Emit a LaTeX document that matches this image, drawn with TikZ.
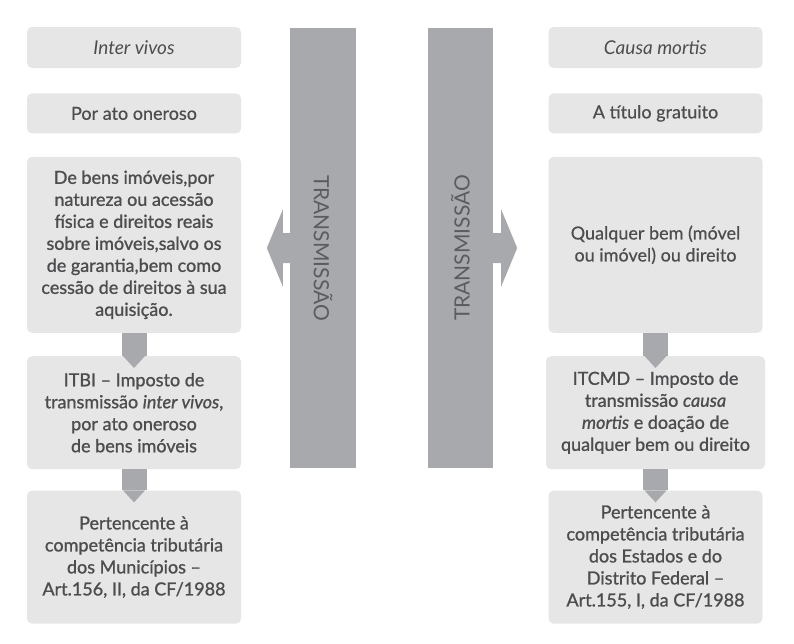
\documentclass[tikz,border=0pt]{standalone}
\usepackage{fontspec}
\setmainfont{Lato}[FakeBold=0.4]
\newfontfamily\heavyfont{Lato}[Ligatures=TeX,FakeBold=1.1]
\newfontfamily\labelfont{Lato}[Ligatures=TeX]
\usepackage{xcolor}
\usepackage{tikz}
\usetikzlibrary{calc, positioning}

\definecolor{boxgray}{HTML}{E6E6E7}
\definecolor{bargray}{HTML}{A7A9AC}
\definecolor{txtgray}{HTML}{4D4D4F}
\definecolor{lblgray}{HTML}{5B5C5E}

\begin{document}
\begin{tikzpicture}[x=1pt,y=1pt,
                    box/.style={rectangle,rounded corners=5pt,fill=boxgray,text=txtgray,
                                minimum width=214pt,inner sep=0pt,align=center,
                                font=\fontsize{18}{22}\selectfont},
                    heavy box/.style={box,font=\heavyfont\fontsize{18}{22}\selectfont},
                    head box/.style={box,font=\labelfont\fontsize{19}{22}\selectfont},
                    bar/.style={rectangle,fill=bargray,inner sep=0pt,minimum width=66pt,minimum height=440pt},
                    bar label/.style={text=lblgray,font=\labelfont\fontsize{21}{24}\selectfont},
                    shaft/.style={draw=bargray,line width=25pt}]

 \useasboundingbox (0,0) rectangle (794,-643);

 % left column
 \node[head box,minimum height=41pt] (inter) at (134,-47.5) {\textit{Inter vivos}};
 \node[box,minimum height=40pt] (oneroso) [below=25pt of inter] {Por ato oneroso};
 \node[heavy box,minimum height=176pt] (bensL) [below=23pt of oneroso]
   {De bens imóveis,por\\natureza ou acessão\\física e direitos reais\\sobre imóveis,salvo os\\de garantia,bem como\\cessão de direitos à sua\\aquisição.};
 \node[heavy box,minimum height=113pt] (itbi) [below=23pt of bensL]
   {ITBI – Imposto de\\transmissão \textit{inter vivos},\\por ato oneroso\\de bens imóveis};
 \node[heavy box,minimum height=133pt] (munic) [below=21pt of itbi]
   {Pertencente à\\competência tributária\\dos Municípios –\\Art.156, II, da CF/1988};

 % right column
 \node[head box,minimum height=41pt] (causa) at (655.5,-47.5) {\textit{Causa mortis}};
 \node[box,minimum height=40pt] (gratuito) [below=25pt of causa] {A título gratuito};
 \node[box,minimum height=176pt] (bensR) [below=23pt of gratuito]
   {Qualquer bem (móvel\\ou imóvel) ou direito};
 \node[heavy box,minimum height=113pt,minimum width=219pt] (itcmd) [below=23pt of bensR]
   {ITCMD – Imposto de\\transmissão \textit{causa}\\\textit{mortis} e doação de\\qualquer bem ou direito};
 \node[heavy box,minimum height=133pt] (estados) [below=21pt of itcmd]
   {Pertencente à\\competência tributária\\dos Estados e do\\Distrito Federal –\\Art.155, I, da CF/1988};

 % the two bars
 \node[bar] (transL) at (323,-248) {};
 \node[bar,minimum width=65pt] (transR) at (460.5,-248) {};
 \node[bar label,rotate=-90] (lblL) at (transL.center) {TRANSMISSÃO};
 \node[bar label,rotate=90] (lblR) at (transR.center) {TRANSMISSÃO};

 \fill[bargray] ($(transL.west)+(0,15)$) -- ++(-7,0) -- ++(0,23.5) -- ++(-16,-38.5)
   -- ++(16,-38.5) -- ++(0,23.5) -- ++(7,0) -- cycle;
 \fill[bargray] ($(transR.east)+(0,15)$) -- ++(8,0) -- ++(0,23.5) -- ++(16,-38.5)
   -- ++(-16,-38.5) -- ++(0,23.5) -- ++(-8,0) -- cycle;

 % small arrows
 \path
 (bensL) edge[shaft] (itbi)
 (itbi)  edge[shaft] (munic)
 (bensR) edge[shaft] (itcmd)
 (itcmd) edge[shaft] (estados);

 \fill[bargray] ($(itbi.north)+(-11,0)$) -- ($(itbi.north)+(11,0)$) -- ($(itbi.north)+(0,-12)$) -- cycle;
 \fill[bargray] ($(munic.north)+(-11,0)$) -- ($(munic.north)+(11,0)$) -- ($(munic.north)+(0,-12)$) -- cycle;
 \fill[bargray] ($(itcmd.north)+(-11,0)$) -- ($(itcmd.north)+(11,0)$) -- ($(itcmd.north)+(0,-12)$) -- cycle;
 \fill[bargray] ($(estados.north)+(-11,0)$) -- ($(estados.north)+(11,0)$) -- ($(estados.north)+(0,-12)$) -- cycle;

\end{tikzpicture}
\end{document}
